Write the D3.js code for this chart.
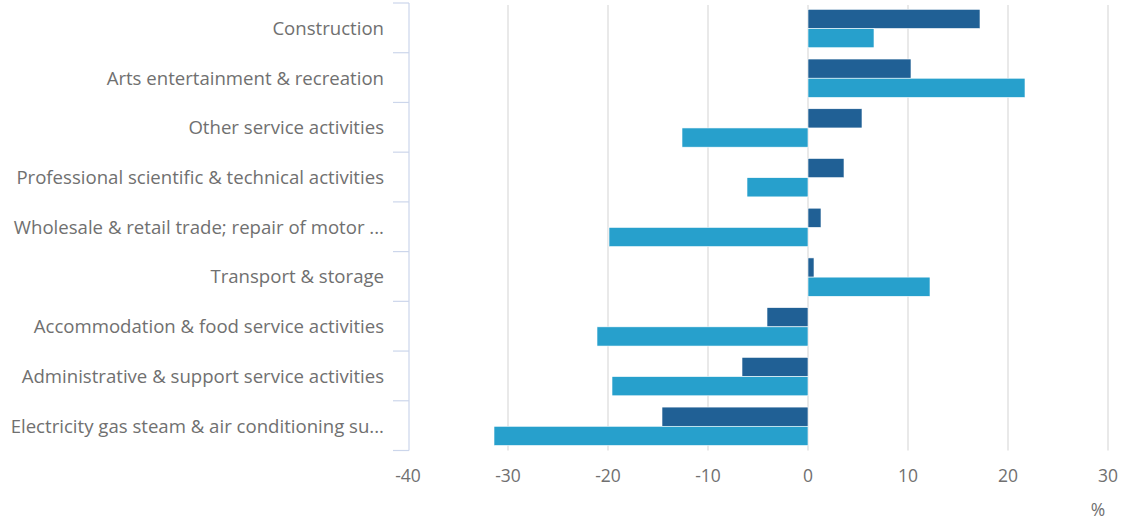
<!DOCTYPE html>
<html>
<head>
<meta charset="utf-8">
<script src="https://cdn.jsdelivr.net/npm/d3@7"></script>
<style>
  body { margin: 0; background: #fff; }
  text { font-family: "Open Sans", sans-serif; }
</style>
</head>
<body>
<div id="chart"></div>
<script>
const categories = [
  "Construction",
  "Arts entertainment & recreation",
  "Other service activities",
  "Professional scientific & technical activities",
  "Wholesale & retail trade; repair of motor ...",
  "Transport & storage",
  "Accommodation & food service activities",
  "Administrative & support service activities",
  "Electricity gas steam & air conditioning su..."
];
const seriesA = [17.2, 10.3, 5.4, 3.6, 1.3, 0.6, -4.1, -6.6, -14.6];
const seriesB = [6.6, 21.7, -12.6, -6.1, -19.9, 12.2, -21.1, -19.6, -31.4];
const xTicks = [-40, -30, -20, -10, 0, 10, 20, 30];

const width = 1125, height = 521;
const margin = { top: 3, left: 408, right: 17, bottom: 70.5 };

const svg = d3.select("#chart").append("svg")
  .attr("width", width).attr("height", height);

const x = d3.scaleLinear().domain([-40, 30])
  .range([margin.left, width - margin.right]);
const y = d3.scaleBand().domain(categories)
  .range([margin.top, height - margin.bottom]);
const sub = d3.scaleBand().domain(["a", "b"])
  .range([6.3, y.bandwidth() - 5]);

// grid
svg.append("g").selectAll("line")
  .data(xTicks.filter(d => d !== -40))
  .join("line")
  .attr("x1", d => x(d)).attr("x2", d => x(d))
  .attr("y1", margin.top + 2).attr("y2", y.range()[1])
  .attr("stroke", "#e2e2e2").attr("stroke-width", 1.5);

// bars
const rows = categories.map((c, i) => ({ c, a: seriesA[i], b: seriesB[i] }));
const bars = svg.append("g");
[["a", "#206095"], ["b", "#27a0cc"]].forEach(([k, col]) => {
  bars.selectAll(".bar-" + k)
    .data(rows)
    .join("rect")
    .attr("class", "bar-" + k)
    .attr("x", d => x(Math.min(0, d[k])))
    .attr("width", d => Math.abs(x(d[k]) - x(0)))
    .attr("y", d => y(d.c) + sub(k))
    .attr("height", sub.bandwidth())
    .attr("fill", col)
    .attr("stroke", "#fff").attr("stroke-width", 0.6);
});

// y axis
const yAxis = svg.append("g");
yAxis.append("line")
  .attr("x1", margin.left + 1).attr("x2", margin.left + 1)
  .attr("y1", y.range()[0]).attr("y2", y.range()[1])
  .attr("stroke", "#ccd6eb").attr("stroke-width", 1.2);
const tickYs = categories.map(c => y(c)).concat([y.range()[1]]);
yAxis.selectAll(".tk").data(tickYs).join("line")
  .attr("x1", margin.left - 15).attr("x2", margin.left + 1)
  .attr("y1", d => d).attr("y2", d => d)
  .attr("stroke", "#ccd6eb").attr("stroke-width", 1.2);
yAxis.selectAll("text").data(categories).join("text")
  .attr("x", margin.left - 24)
  .attr("y", d => y(d) + y.bandwidth() / 2 + 0.5)
  .attr("dy", "0.35em")
  .attr("text-anchor", "end")
  .attr("font-size", 18.6)
  .attr("fill", "#707070")
  .text(d => d);

// x labels
svg.append("g").selectAll("text").data(xTicks).join("text")
  .attr("x", d => x(d)).attr("y", 482)
  .attr("text-anchor", "middle")
  .attr("font-size", 17.5)
  .attr("fill", "#707070")
  .text(d => d);

svg.append("text")
  .attr("x", 1098).attr("y", 516)
  .attr("text-anchor", "middle")
  .attr("font-size", 17.5)
  .attr("fill", "#707070")
  .text("%");
</script>
</body>
</html>
